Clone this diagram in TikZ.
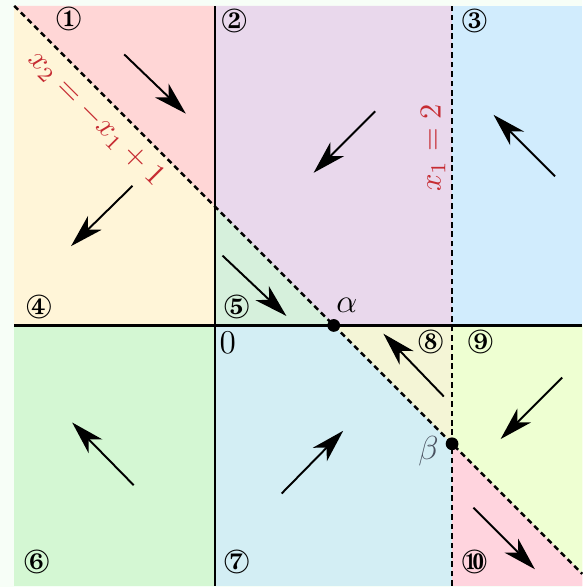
\documentclass[tikz,border=0pt]{standalone}
\usepackage{pifont}
\usepackage{tikz}
\usetikzlibrary{arrows.meta,positioning}
\definecolor{regpaper}{HTML}{F7FEF7}
\definecolor{regone}{HTML}{FFD6D6}
\definecolor{regtwo}{HTML}{E9D8EC}
\definecolor{regthree}{HTML}{D1ECFD}
\definecolor{regfour}{HTML}{FFF5D8}
\definecolor{regfive}{HTML}{D6F0DC}
\definecolor{regsix}{HTML}{D4F7D3}
\definecolor{regseven}{HTML}{D3EEF4}
\definecolor{regeight}{HTML}{F4F5D6}
\definecolor{regnine}{HTML}{EEFFD2}
\definecolor{regten}{HTML}{FFD4DE}
\definecolor{regred}{HTML}{C62B32}
\definecolor{regink}{HTML}{4A5260}
\tikzset{
  axis/.style={line width=0.8pt, color=black},
  bnd/.style={line width=0.9pt, dash pattern=on 2pt off 1.4pt},
  flow/.style={-{Stealth[length=12pt, width=7pt, inset=3.5pt]}, line width=0.7pt},
  num/.style={inner sep=0pt, scale=1.2},
  eqn/.style={color=regred, inner sep=0pt, scale=1.1},
  sym/.style={inner sep=0pt, font=\large},
  pnt/.style={circle, fill=black, inner sep=0pt, minimum size=4.6pt},
}

\begin{document}
\begin{tikzpicture}[x=1.5cm, y=1.5cm]
      \fill[regpaper] (-1.82,-2.21) rectangle (3.1,2.75);
      \useasboundingbox (-1.82,-2.21) rectangle (3.1,2.75);
      % regions
      \fill[regone] (-1.7,2.7) -- (0,2.7) -- (0,1) -- cycle;
      \fill[regtwo] (0,2.7) -- (2,2.7) -- (2,0) -- (1,0) -- (0,1) -- cycle;
      \fill[regthree] (2,2.7) -- (3.1,2.7) -- (3.1,0) -- (2,0) -- cycle;
      \fill[regfour] (-1.7,2.7) -- (0,1) -- (0,0) -- (-1.7,0) -- cycle;
      \fill[regfive] (0,1) -- (1,0) -- (0,0) -- cycle;
      \fill[regsix] (-1.7,0) -- (0,0) -- (0,-2.2) -- (-1.7,-2.2) -- cycle;
      \fill[regseven] (0,0) -- (1,0) -- (2,-1) -- (2,-2.2) -- (0,-2.2) -- cycle;
      \fill[regeight] (1,0) -- (2,0) -- (2,-1) -- cycle;
      \fill[regnine] (2,0) -- (3.1,0) -- (3.1,-2.1) -- (2,-1) -- cycle;
      \fill[regten] (2,-1) -- (3.1,-2.1) -- (3.1,-2.2) -- (2,-2.2) -- cycle;
      % axes and boundaries
      \draw[axis] (-1.7,0) -- (3.1,0);
      \draw[axis] (0,-2.2) -- (0,2.7);
      \draw[bnd] (2,-2.2) -- (2,2.7);
      \draw[bnd] (-1.7,2.7) -- (3.1,-2.1);
      % flow
      \draw[flow] (-0.77,2.29) -- (-0.25,1.79);
      \draw[flow] (1.35,1.81) -- (0.83,1.29);
      \draw[flow] (2.87,1.26) -- (2.35,1.78);
      \draw[flow] (-0.70,1.18) -- (-1.22,0.67);
      \draw[flow] (0.06,0.59) -- (0.60,0.08);
      \draw[flow] (-0.69,-1.35) -- (-1.21,-0.82);
      \draw[flow] (0.56,-1.42) -- (1.08,-0.89);
      \draw[flow] (1.93,-0.60) -- (1.42,-0.07);
      \draw[flow] (2.93,-0.44) -- (2.41,-0.96);
      \draw[flow] (2.18,-1.54) -- (2.70,-2.06);
      % equilibria
      \node[pnt] (alpha) at (1,0) {};
      \node[pnt] (beta) at (2,-1) {};
      \node[sym] (alab) at (1.11,0.17) {$\alpha$};
      \node[sym, text=regink] (blab) at (1.80,-1.06) {$\beta$};
      \node[sym] (orig) at (0.105,-0.15) {$0$};
      % boundary labels
      \node[eqn, rotate=-45] (diag) at (-1.01,1.75) {$x_2=-x_1+1$};
      \node[eqn, rotate=90] (vert) at (1.84,1.50) {$x_1=2$};
      % region numbers
      \node[num] (n1) at (-1.24,2.59) {\ding{172}};
      \node[num] (n2) at (0.16,2.57) {\ding{173}};
      \node[num] (n3) at (2.19,2.57) {\ding{174}};
      \node[num] (n4) at (-1.49,0.16) {\ding{175}};
      \node[num] (n5) at (0.18,0.16) {\ding{176}};
      \node[num] (n6) at (-1.51,-2.0) {\ding{177}};
      \node[num] (n7) at (0.18,-2.0) {\ding{178}};
      \node[num] (n8) at (1.82,-0.14) {\ding{179}};
      \node[num] (n9) at (2.24,-0.14) {\ding{180}};
      \node[num] (n10) at (2.19,-2.0) {\ding{181}};
    \end{tikzpicture}
\end{document}
